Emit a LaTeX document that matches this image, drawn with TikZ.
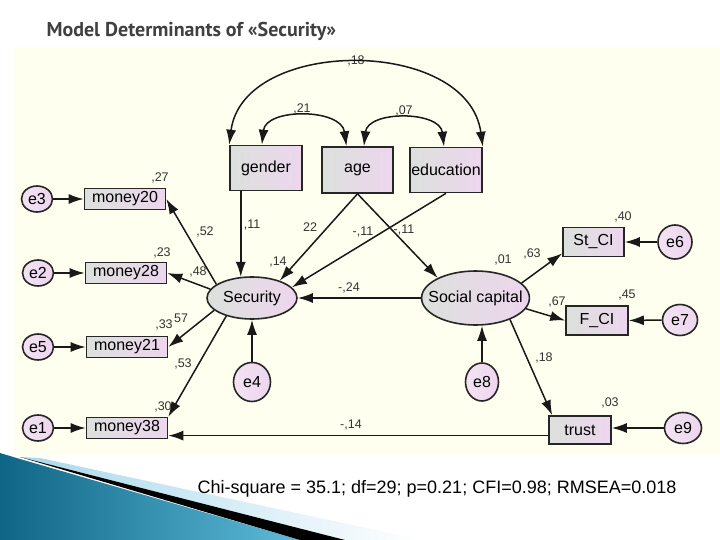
\documentclass[tikz,border=0pt]{standalone}
\usepackage{fontspec}
\setmainfont{Liberation Sans}
\newfontfamily\titlefont{PT Sans}
\usepackage{xcolor}
\definecolor{panel-fill}{HTML}{FFFFEF}
\definecolor{box-left}{HTML}{DCE0DC}
\definecolor{box-right}{HTML}{EDD6EE}
\definecolor{title-gray}{HTML}{404040}
\definecolor{deco-dark}{HTML}{0F6585}
\definecolor{deco-light}{HTML}{5DBBD9}
\definecolor{deco-pale}{HTML}{A9D9EC}
\usepackage{tikz}
\usetikzlibrary{
  shapes.geometric,
  arrows.meta
}

\begin{document}
\begin{tikzpicture}[
    x=1pt, y=-1pt,
    obs/.style={
      rectangle,
      draw=black!85,
      line width=1.6pt,
      left color=box-left,
      right color=box-right,
      inner sep=1pt,
      font=\fontsize{16}{19}\selectfont
    },
    latent/.style={
      ellipse,
      draw=black!85,
      line width=1.6pt,
      left color=box-left,
      right color=box-right,
      inner sep=0pt,
      font=\fontsize{16}{19}\selectfont
    },
    err/.style={
      latent,
      left color=box-right!70!white,
      right color=box-right
    },
    path/.style={
      -{Latex[length=15pt,width=10pt]},
      line width=1.5pt,
      color=black!90
    },
    cov/.style={
      {Latex[length=15pt,width=10pt]}-{Latex[length=15pt,width=10pt]},
      line width=1.5pt,
      color=black!90
    },
    coef/.style={
      font=\fontsize{12.5}{14}\selectfont,
      text=black!80,
      inner sep=0pt
    }
  ]
    \useasboundingbox (0,0) rectangle (720,540);

    % ---- Slide background ----
    \fill[white] (0,0) rectangle (720,540);
    \fill[panel-fill] (14,47) rectangle (720,455);
    \path[left color=deco-dark, right color=deco-light]
      (0,453) -- (20,459) -- (300,540) -- (0,540) -- cycle;
    \path[left color=deco-pale, right color=white]
      (40,458) -- (422,540) -- (345,540) -- (20,457) -- cycle;
    \fill[black] (20,457) -- (345,540) -- (300,540) -- cycle;

    \node[anchor=west, font=\titlefont\bfseries\fontsize{20}{22}\selectfont,
      text=title-gray] (title) at (43,31) {Model Determinants of «Security»};

    % ---- Exogenous row ----
    \node[obs, minimum width=72, minimum height=45] (gender)    at (266,168) {gender};
    \node[obs, minimum width=71, minimum height=46] (age)       at (357.5,170) {age};
    \node[obs, minimum width=72, minimum height=45] (education) at (446,170) {education};

    % ---- Latent variables ----
    \node[latent, minimum width=90, minimum height=42] (security) at (252,298) {Security};
    \node[latent, minimum width=106, minimum height=54, inner xsep=-9pt]
      (social) at (475.5,298) {Social capital};

    % ---- Security indicators ----
    \node[obs, minimum width=81, minimum height=21] (money20) at (125,199) {money20};
    \node[obs, minimum width=81, minimum height=21] (money28) at (126,273) {money28};
    \node[obs, minimum width=81, minimum height=21] (money21) at (127,347) {money21};
    \node[obs, minimum width=81, minimum height=21] (money38) at (127,428) {money38};

    % ---- Social capital indicators ----
    \node[obs, minimum width=61, minimum height=29] (stci)  at (593.5,242) {St\_CI};
    \node[obs, minimum width=62, minimum height=29] (fci)   at (597,320.5) {F\_CI};
    \node[obs, minimum width=62, minimum height=28] (trust) at (580,430) {trust};

    % ---- Error terms ----
    \node[err, minimum width=31, minimum height=26] (e3) at (37,199) {e3};
    \node[err, minimum width=31, minimum height=26] (e2) at (38,273) {e2};
    \node[err, minimum width=31, minimum height=26] (e5) at (38,347) {e5};
    \node[err, minimum width=31, minimum height=26] (e1) at (38,428) {e1};
    \node[err, minimum width=37, minimum height=39] (e4) at (252,382) {e4};
    \node[err, minimum width=33, minimum height=38] (e8) at (482,382) {e8};
    \node[err, minimum width=34, minimum height=34] (e6) at (675,242) {e6};
    \node[err, minimum width=35, minimum height=31] (e7) at (680,320) {e7};
    \node[err, minimum width=37, minimum height=31] (e9) at (683,428) {e9};

    % ---- Estimates ----
    \node[coef] (c-ge-ed)  at (356,61)  {,18};
    \node[coef] (c-ge-ag)  at (302,109) {,21};
    \node[coef] (c-ag-ed)  at (404,111) {,07};
    \node[coef] (r-m20)    at (160,178) {,27};
    \node[coef] (c-m20)    at (205,232) {,52};
    \node[coef] (r-m28)    at (162,253) {,23};
    \node[coef] (c-m28)    at (198,272) {,48};
    \node[coef] (r-m21)    at (164,325) {,33};
    \node[coef] (c-m21)    at (181,318) {57};
    \node[coef] (c-m38)    at (183,364) {,53};
    \node[coef] (r-m38)    at (163,407) {,30};
    \node[coef] (c-ge-se)  at (252,225) {,11};
    \node[coef] (c-ag-se)  at (310,227) {22};
    \node[coef] (r-se)     at (278,262) {,14};
    \node[coef] (c-ag-so)  at (363,232) {-,11};
    \node[coef] (c-ed-se)  at (404,230) {-,11};
    \node[coef] (c-so-se)  at (349,288) {-,24};
    \node[coef] (r-so)     at (503,260) {,01};
    \node[coef] (c-stci)   at (532,254) {,63};
    \node[coef] (r-stci)   at (623,217) {,40};
    \node[coef] (c-fci)    at (557,302) {,67};
    \node[coef] (r-fci)    at (627,295) {,45};
    \node[coef] (c-trust)  at (544,358) {,18};
    \node[coef] (r-trust)  at (610,403) {,03};
    \node[coef] (c-tr-m38) at (351,425) {-,14};

    % ---- Covariances ----
    \draw[cov] (gender.north west) .. controls +(14,-108) and +(-15,-110) .. (education.north east);
    \draw[cov] (gender.100) .. controls +(4,-37) and +(-5,-38) .. (age.115);
    \draw[cov] (age.75) .. controls +(4,-36) and +(-4,-36) .. (education.95);

    % ---- Structural paths ----
    \draw[path] (gender.south -| security.118) -- (security.118);
    \draw[path] (age.south) -- (security.32);
    \draw[path] (education.south) -- (security.15);
    \draw[path] (age.south) -- (social.152);
    \draw[path] (social.west) -- (security.east);

    % ---- Measurement: Security ----
    \draw[path] (security.159) -- (money20.east);
    \draw[path] (security.168) -- (money28.east);
    \draw[path] (security.198) -- (money21.east);
    \draw[path] (security.215) -- (money38.north east);

    % ---- Measurement: Social capital ----
    \draw[path] (social.18) -- (stci.200);
    \draw[path] (social.-12) -- (fci.west);
    \draw[path] (social.-32) -- (trust.152);
    \draw[path] (trust.190) -- (trust.190 -| money38.east);

    % ---- Error terms -> variables ----
    \draw[path] (e3.east) -- (money20.west);
    \draw[path] (e2.east) -- (money28.west);
    \draw[path] (e5.east) -- (money21.west);
    \draw[path] (e1.east) -- (money38.west);
    \draw[path] (e4.north) -- (security.south);
    \draw[path] (e8.north) -- (e8.north |- social.south);
    \draw[path] (e6.west) -- (stci.east);
    \draw[path] (e7.west) -- (fci.east);
    \draw[path] (e9.west) -- (e9.west -| trust.east);

    % ---- Fit statistics ----
    \node[font=\fontsize{18}{21}\selectfont] (fit) at (437,489)
      {Chi-square = 35.1; df=29; p=0.21; CFI=0.98; RMSEA=0.018};
  \end{tikzpicture}
\end{document}
